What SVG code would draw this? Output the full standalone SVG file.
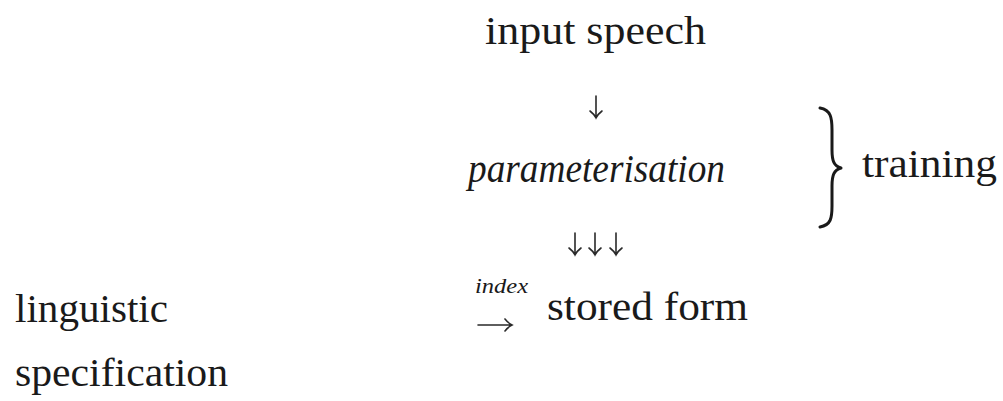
<svg xmlns="http://www.w3.org/2000/svg" width="1003" height="401" viewBox="0 0 1003 401">
<style>
.t{font-family:"Liberation Serif","Times New Roman",serif;font-size:39px;fill:#1a1a1a}
.it{font-style:italic}
.ix{font-family:"Liberation Serif","Times New Roman",serif;font-style:italic;font-size:21px;fill:#1a1a1a}
.ar{fill:none;stroke:#2a2a2a;stroke-width:1.6;stroke-linecap:round}
.br{fill:none;stroke:#1a1a1a;stroke-width:3;stroke-linecap:round;stroke-linejoin:round}
</style>
<rect width="1003" height="401" fill="#ffffff"/>
<g id="input-speech"><text class="t" x="485" y="44" textLength="221" lengthAdjust="spacingAndGlyphs">input speech</text></g>
<g id="parameterisation"><text class="t it" x="468" y="182" textLength="257" lengthAdjust="spacingAndGlyphs">parameterisation</text></g>
<g id="stored-form"><text class="t" x="547" y="320" textLength="201" lengthAdjust="spacingAndGlyphs">stored form</text></g>
<g id="training"><text class="t" x="862" y="177" textLength="135" lengthAdjust="spacingAndGlyphs">training</text>
<path class="br" d="M820,108 C831,110 832,118 832,130 L832,150 C832,161 834,166 841,168 C834,170 832,175 832,186 L832,206 C832,218 831,225 820,227"/></g>
<g id="linguistic-specification"><text class="t" x="15" y="322" textLength="153" lengthAdjust="spacingAndGlyphs">linguistic</text>
<text class="t" x="15" y="386" textLength="213" lengthAdjust="spacingAndGlyphs">specification</text></g>
<g id="connectors">
<path class="ar" d="M596,96 V118 M590,111 Q594,114 596,118 Q598,114 602,111"/>
<path class="ar" d="M575,233 V255 M569,248 Q573,251 575,255 Q577,251 581,248"/>
<path class="ar" d="M595,233 V255 M589,248 Q593,251 595,255 Q597,251 601,248"/>
<path class="ar" d="M616,233 V255 M610,248 Q614,251 616,255 Q618,251 622,248"/>
<path class="ar" d="M478,325 H512 M505,319 Q508,323 512,325 Q508,327 505,331"/>
<text class="ix" x="475" y="293" textLength="53" lengthAdjust="spacingAndGlyphs">index</text>
</g>
</svg>
